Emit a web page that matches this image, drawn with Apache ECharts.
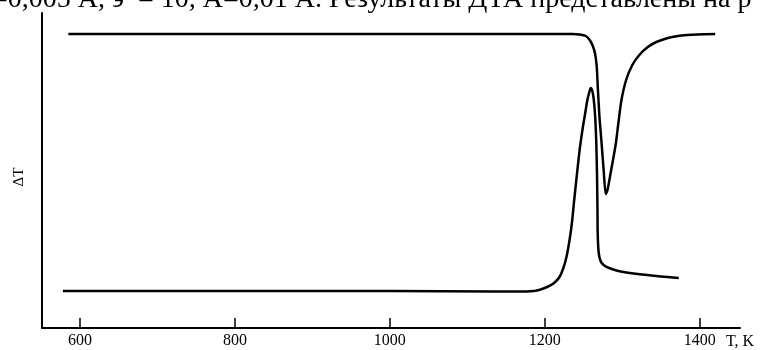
<!DOCTYPE html>
<html>
<head>
<meta charset="utf-8">
<script src="https://cdn.jsdelivr.net/npm/echarts@6/dist/echarts.min.js"></script>
<style>html,body{margin:0;padding:0;background:#fff}#c{width:763px;height:350px}</style>
</head>
<body>
<div id="c"></div>
<script>
// Tick labels on the temperature axis
const tickValues = [600, 800, 1000, 1200, 1400];
// Upper DTA curve (endothermic dip), T in K, ΔT in arbitrary units
const upperT  = [585, 800, 1000, 1200, 1236, 1245, 1253, 1258, 1262, 1265, 1267, 1268.5, 1270.5, 1273, 1276, 1278.7, 1281, 1285, 1289, 1292, 1295, 1299, 1305, 1313, 1322, 1333, 1344, 1359, 1374, 1390, 1405, 1420];
const upperDT = [294, 294, 294, 294, 294, 293.5, 292, 288, 282, 274, 262, 240, 212, 188, 158, 134, 138, 155, 172, 186, 205, 228, 248, 263, 273, 281, 286, 290, 292.3, 293.3, 293.8, 294];
// Lower DTA curve (exothermic peak)
const lowerT  = [578, 800, 1000, 1135, 1170, 1190, 1203, 1212, 1219, 1224, 1228, 1232, 1235, 1238, 1241, 1245, 1249, 1252, 1255, 1257.5, 1259.4, 1261, 1263, 1265, 1266.5, 1267.5, 1268, 1268.3, 1269.5, 1272, 1276, 1283, 1295, 1320, 1350, 1373];
const lowerDT = [37, 37, 37, 36.5, 36.5, 37.5, 41, 45, 51, 60, 71, 88, 105, 128, 150, 178, 200, 214, 228, 236, 240, 238, 230, 212, 185, 150, 120, 95, 76, 67, 63, 60, 57, 54, 51.5, 50];

const chart = echarts.init(document.getElementById('c'), null, {renderer: 'canvas'});
const zip = (a, b) => a.map((v, i) => [v, b[i]]);
const serif = 'Liberation Serif';
chart.setOption({
  animation: false,
  backgroundColor: '#fff',
  grid: {left: 42, right: 23, top: 13, bottom: 22, containLabel: false},
  xAxis: {
    type: 'value', min: 551, max: 1452,
    splitLine: {show: false},
    axisLine: {lineStyle: {color: '#000', width: 2}},
    axisTick: {inside: true, length: 10, lineStyle: {color: '#000', width: 1.5}, customValues: tickValues},
    axisLabel: {color: '#000', fontFamily: serif, fontSize: 16, margin: 5, customValues: tickValues, formatter: v => String(v)}
  },
  yAxis: {
    type: 'value', min: 0, max: 315,
    splitLine: {show: false}, axisTick: {show: false}, axisLabel: {show: false},
    axisLine: {show: true, lineStyle: {color: '#000', width: 2}}
  },
  graphic: [
    {type: 'text', left: 726, top: 334, style: {text: 'T, K', fill: '#000', font: '16px "Liberation Serif"'}},
    {type: 'text', x: 19, y: 177, rotation: Math.PI / 2, style: {text: 'ΔT', fill: '#000', font: '15px "Liberation Serif"', align: 'center', verticalAlign: 'middle'}},
    {type: 'text', x: -8, y: 14, style: {text: '=0,005 А, э  = 10, А=0,01 А. Результаты ДТА представлены на р', fill: '#000', font: '28px "Liberation Serif"', verticalAlign: 'bottom'}}
  ],
  series: [
    {type: 'line', data: zip(upperT, upperDT), showSymbol: false, smooth: 0.25, lineStyle: {color: '#000', width: 2.5}},
    {type: 'line', data: zip(lowerT, lowerDT), showSymbol: false, smooth: 0.25, lineStyle: {color: '#000', width: 2.5}}
  ]
});
</script>
</body>
</html>
